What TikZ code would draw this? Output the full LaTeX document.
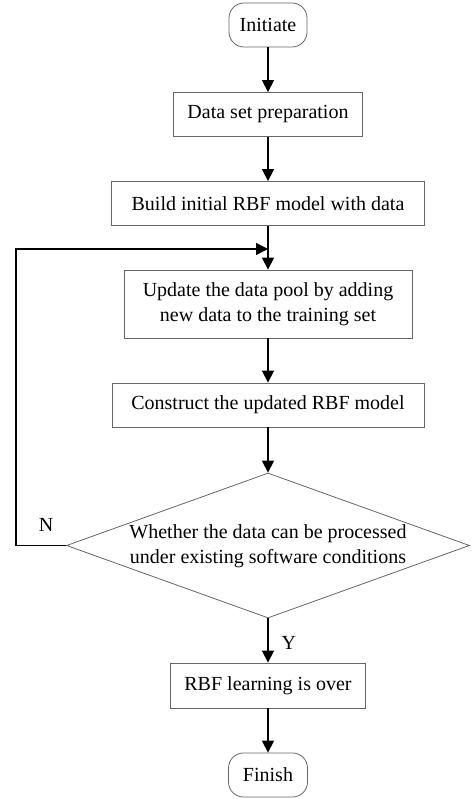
\documentclass[tikz,border=0pt]{standalone}
\usepackage{fontspec}
\setmainfont{Liberation Serif}
\usetikzlibrary{positioning, shapes.geometric, arrows.meta}

\begin{document}
\begin{tikzpicture}[x=1pt, y=1pt, on grid, font=\fontsize{20}{25}\selectfont,
    terminal/.style={draw=black!60, line width=0.8pt, rounded corners=15pt, minimum width=78pt, minimum height=44pt},
    process/.style={draw=black!60, line width=0.8pt, minimum height=44pt, align=center},
    decision/.style={draw=black!60, line width=0.8pt, diamond, inner sep=0pt, minimum width=403pt, minimum height=145pt},
    answer/.style={inner sep=0pt},
    flow/.style={-{Triangle[length=12pt, width=12pt]}, line width=1.4pt}]
   \useasboundingbox (0,0) rectangle (474,-799);

   \node[terminal] (init) at (268,-25) {Initiate};
   \node[process, minimum width=189pt] (prep) [below=89.5pt of init] {Data set preparation};
   \node[process, minimum width=313pt] (build) [below=89pt of prep] {Build initial RBF model with data};
   \coordinate[below=45.5pt of build] (join);
   \node[process, minimum width=288pt, minimum height=68pt] (update) [below=100.5pt of build]
      {Update the data pool by adding\\new data to the training set};
   \node[process, minimum width=312pt] (construct) [below=101pt of update] {Construct the updated RBF model};
   \node[decision] (check) [below=140.5pt of construct]
      {\makebox[0pt]{\begin{tabular}{@{}c@{}}Whether the data can be processed\\under existing software conditions\end{tabular}}};
   \node[process, minimum width=195pt, minimum height=45pt] (over) [below=140pt of check] {RBF learning is over};
   \node[terminal, minimum width=79pt] (finish) [below=89.5pt of over] {Finish};

   \draw[flow] (init) -- (prep);
   \draw[flow] (prep) -- (build);
   \draw[flow] (build) -- (update);
   \draw[flow] (update) -- (construct);
   \draw[flow] (construct) -- (check);
   \draw[flow] (check.west) -- node[answer, pos=0.4, above=13pt] (no) {N} ++(-50,0) |- (join);
   \draw[flow] (check) -- node[answer, pos=0.56, right=13pt] (yes) {Y} (over);
   \draw[flow] (over) -- (finish);
\end{tikzpicture}
\end{document}
